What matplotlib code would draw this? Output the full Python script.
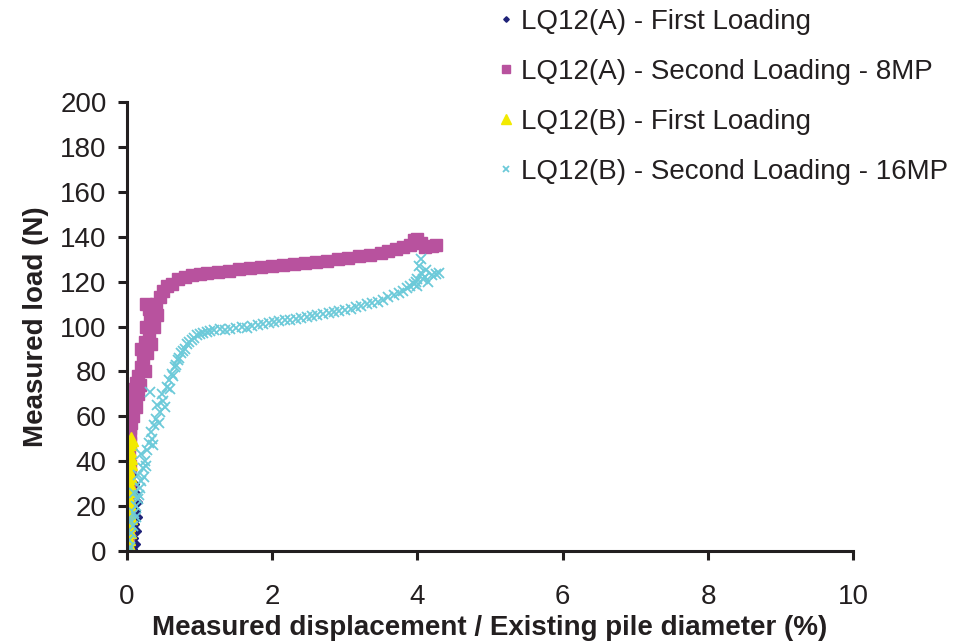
import matplotlib.pyplot as plt

plt.rcParams['font.family'] = ['Liberation Sans', 'DejaVu Sans']

# LQ12(A) - first loading
a1_x = [0.02, 0.08, 0.12, 0.10, 0.14, 0.11, 0.15, 0.13, 0.16, 0.13, 0.11, 0.09, 0.07, 0.06]
a1_y = [0, 1, 3, 6, 9, 12, 15, 18, 22, 26, 30, 34, 38, 42]

# LQ12(A) - second loading, 8MP
a2_x = [0.00, 0.00, 0.01, 0.00, 0.02, 0.01, 0.03, 0.02, 0.04, 0.03, 0.05, 0.04, 0.06, 0.05,
        0.07, 0.09, 0.10, 0.13, 0.16, 0.20, 0.22, 0.20, 0.25, 0.30, 0.27, 0.32, 0.36, 0.27,
        0.40, 0.45, 0.50, 0.55, 0.62, 0.70, 0.80, 0.90, 1.00, 1.10, 1.25, 1.40, 1.55, 1.70,
        1.85, 2.00, 2.15, 2.30, 2.45, 2.60, 2.75, 2.90, 3.05, 3.20, 3.35, 3.50, 3.60, 3.70,
        3.80, 3.90, 3.95, 4.00, 4.05, 4.10, 4.20, 4.25,
        0.00, 0.00, 0.05, 0.08, 0.12, 0.15, 0.18, 0.25, 0.28, 0.33, 0.38, 0.42, 0.30, 0.02]
a2_y = [0, 3, 7, 12, 18, 23, 28, 33, 38, 43, 48, 52, 57, 62,
        66, 68, 72, 75, 78, 82, 86, 90, 93, 96, 100, 104, 107, 110,
        110, 113, 116, 118, 119, 121, 122, 123, 123.5, 124, 124.5, 124.8, 125.5, 126,
        126.3, 126.8, 127.2, 127.8, 128.2, 128.8, 129.3, 130, 130.5, 131.2, 132, 132.8, 133.5, 134.5,
        135.5, 136.5, 138.5, 139, 137, 135.5, 136, 136.5,
        30, 40, 55, 60, 64, 70, 74, 80, 88, 92, 100, 105, 108, 66]

# LQ12(B) - first loading
b1_x = [0.00, 0.02, 0.01, 0.03, 0.02, 0.04, 0.01, 0.03, 0.02, 0.04, 0.03, 0.05, 0.02,
        0.04, 0.05, 0.03, 0.05, 0.06]
b1_y = [0, 3, 6, 9, 12, 15, 18, 21, 24, 27, 30, 33, 36, 39, 42, 45, 48, 50]

# LQ12(B) - second loading, 16MP
b2_x = [0.02, 0.05, 0.03, 0.06, 0.08, 0.05, 0.10, 0.12, 0.15, 0.10, 0.18, 0.20, 0.16, 0.22,
        0.25, 0.20, 0.28, 0.30, 0.35, 0.33, 0.38, 0.40, 0.45, 0.42, 0.50, 0.48, 0.32, 0.55,
        0.58, 0.62, 0.66, 0.70, 0.74, 0.80, 0.86, 0.92, 1.00, 1.10, 1.20, 1.35, 1.50, 1.65,
        1.80, 1.95, 2.10, 2.25, 2.40, 2.55, 2.70, 2.85, 3.00, 3.15, 3.30, 3.45, 3.60, 3.75,
        3.85, 3.95, 4.00, 4.05, 4.02, 4.05, 4.10, 4.20, 4.30, 4.00, 4.15,
        0.12, 0.17, 0.23, 0.27, 0.36, 0.44, 0.52, 0.60, 0.64, 0.68, 0.72, 0.77, 0.83, 0.89,
        0.96, 1.05, 1.15, 1.28, 1.42, 1.58, 1.72, 1.88, 2.02, 2.18, 2.33, 2.48, 2.62, 2.78,
        2.92, 3.08, 3.22, 3.38, 3.52, 3.68, 3.80, 3.90, 3.98, 4.08, 4.12, 4.25]
b2_y = [0, 2, 5, 8, 11, 14, 17, 20, 23, 26, 28, 31, 34, 37,
        40, 43, 45, 48, 50, 53, 56, 59, 62, 65, 67, 70, 71, 73,
        76, 79, 82, 85, 88, 90, 93, 95, 96.5, 97.5, 98.5, 98.5, 99.5, 99.5,
        100.5, 101.5, 102.5, 103, 104, 104.5, 105.5, 106.5, 107.5, 108.5, 110, 111, 113, 115,
        117, 119, 121, 124, 127, 130, 122, 123, 124, 118, 120,
        15, 25, 33, 38, 47, 57, 64, 72, 78, 83, 86, 89, 92, 94,
        96, 97, 98, 98.8, 99, 100, 100.2, 101, 102, 102.8, 103.5, 104.2, 105, 106,
        107, 108, 109, 110.5, 112, 114, 116, 118, 120, 121, 125, 123.5]

labels = ['LQ12(A) - First Loading', 'LQ12(A) - Second Loading - 8MP',
          'LQ12(B) - First Loading', 'LQ12(B) - Second Loading - 16MP']

fig = plt.figure(figsize=(9.61, 6.44), dpi=100)
ax = fig.add_axes([0.132, 0.1444, 0.756, 0.6972])

ax.plot(a1_x, a1_y, ls='none', marker='D', ms=4, color='#1f2278', label=labels[0])
ax.plot(a2_x, a2_y, ls='none', marker='s', ms=9, color='#b8529e', label=labels[1])
ax.plot(b1_x, b1_y, ls='none', marker='^', ms=10, color='#f2ea00', label=labels[2])
ax.plot(b2_x, b2_y, ls='none', marker='x', ms=6.5, mew=1.3, color='#6ccad9', label=labels[3])

ax.set_xlim(0, 10)
ax.set_ylim(0, 200)
ax.set_xticks(range(0, 11, 2))
ax.set_yticks(range(0, 201, 20))
ax.spines['top'].set_visible(False)
ax.spines['right'].set_visible(False)
for s in ('left', 'bottom'):
    ax.spines[s].set_linewidth(2.2)
    ax.spines[s].set_color('#231f20')
ax.tick_params(direction='out', length=6.5, width=2.2, color='#231f20',
               labelsize=20, labelcolor='#231f20')
ax.tick_params(axis='x', pad=17)
ax.tick_params(axis='y', pad=8)

ax.set_xlabel('Measured displacement / Existing pile diameter (%)', fontsize=20,
              fontweight='bold', color='#231f20', labelpad=4)
ax.set_ylabel('Measured load (N)', fontsize=20, fontweight='bold', color='#231f20',
              labelpad=8)

leg = fig.legend(loc='upper left', bbox_to_anchor=(0.503, 1.003), frameon=False,
                 fontsize=20, handletextpad=0.15, labelspacing=0.86, markerscale=0.7,
                 handlelength=0.8, borderaxespad=0)
for t in leg.get_texts():
    t.set_color('#231f20')

fig.savefig('out.png', dpi=100)
